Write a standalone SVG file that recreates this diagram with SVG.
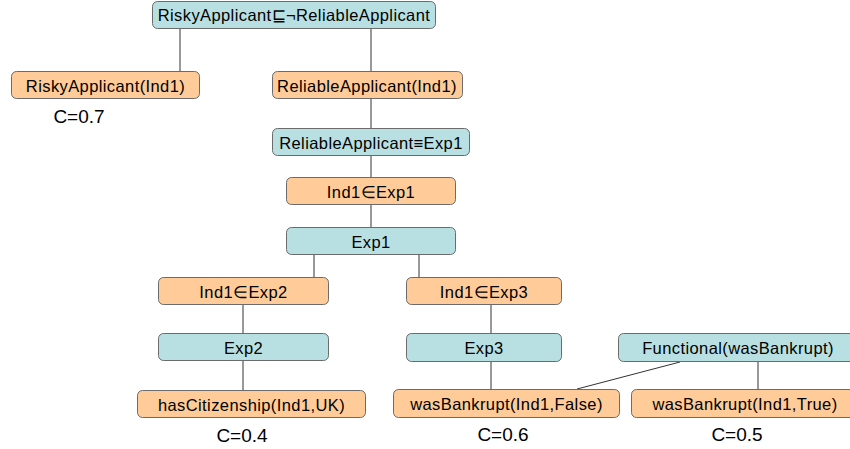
<svg xmlns="http://www.w3.org/2000/svg" width="850" height="449" viewBox="0 0 850 449">
<style>
.o{fill:#FFCC99;stroke:#6b6b6b;stroke-width:1}
.b{fill:#B8E0E3;stroke:#6b6b6b;stroke-width:1}
text{font-family:"Liberation Sans",Arial,sans-serif;font-size:16.5px;letter-spacing:0.4px;fill:#000;text-anchor:middle}
text.k{font-size:19px;letter-spacing:0}
.c line{stroke:#333;stroke-width:1}
</style>
<rect width="850" height="449" fill="#fff"/>
<g class="c" id="connectors">
<line x1="180" y1="28" x2="180" y2="72"/>
<line x1="371" y1="28" x2="371" y2="72"/>
<line x1="371" y1="99" x2="371" y2="128"/>
<line x1="371" y1="156" x2="371" y2="177"/>
<line x1="371" y1="205" x2="371" y2="227"/>
<line x1="314" y1="255" x2="314" y2="277"/>
<line x1="419" y1="255" x2="419" y2="277"/>
<line x1="243" y1="305" x2="243" y2="333"/>
<line x1="491" y1="305" x2="491" y2="333"/>
<line x1="243" y1="361" x2="243" y2="390"/>
<line x1="491" y1="362" x2="491" y2="389"/>
<line x1="680" y1="362" x2="577" y2="389"/>
<line x1="758" y1="362" x2="758" y2="389"/>
</g>
<g id="n1"><rect class="b" x="152.5" y="1.5" width="283" height="27" rx="5"/><text x="294" y="21">RiskyApplicant⊑¬ReliableApplicant</text></g>
<g id="n2"><rect class="o" x="11.5" y="71.5" width="188" height="27" rx="5"/><text x="105.5" y="91.5">RiskyApplicant(Ind1)</text><text class="k" x="79" y="123">C=0.7</text></g>
<g id="n3"><rect class="o" x="272.5" y="71.5" width="190" height="27" rx="5"/><text x="367" y="91.5">ReliableApplicant(Ind1)</text></g>
<g id="n4"><rect class="b" x="272.5" y="128.5" width="197" height="27" rx="5"/><text x="371" y="148.5">ReliableApplicant≡Exp1</text></g>
<g id="n5"><rect class="o" x="286.5" y="177.5" width="169" height="27" rx="5"/><text x="371" y="197.5">Ind1∈Exp1</text></g>
<g id="n6"><rect class="b" x="286.5" y="227.5" width="169" height="27" rx="5"/><text x="371" y="247.5">Exp1</text></g>
<g id="n7"><rect class="o" x="158.5" y="277.5" width="170" height="27" rx="5"/><text x="243.5" y="297.5">Ind1∈Exp2</text></g>
<g id="n8"><rect class="o" x="406.5" y="277.5" width="155" height="27" rx="5"/><text x="484" y="297.5">Ind1∈Exp3</text></g>
<g id="n9"><rect class="b" x="158.5" y="333.5" width="170" height="27" rx="5"/><text x="243.5" y="353.5">Exp2</text></g>
<g id="n10"><rect class="b" x="406.5" y="333.5" width="155" height="28" rx="5"/><text x="484" y="354">Exp3</text></g>
<g id="n11"><rect class="b" x="618.5" y="333.5" width="240" height="28" rx="5"/><text x="738" y="354">Functional(wasBankrupt)</text></g>
<g id="n12"><rect class="o" x="137.5" y="390.5" width="228" height="27" rx="5"/><text x="251.5" y="410.5">hasCitizenship(Ind1,UK)</text><text class="k" x="242" y="442">C=0.4</text></g>
<g id="n13"><rect class="o" x="393.5" y="389.5" width="226" height="28" rx="5"/><text x="506.5" y="410">wasBankrupt(Ind1,False)</text><text class="k" x="503" y="441">C=0.6</text></g>
<g id="n14"><rect class="o" x="631.5" y="389.5" width="230" height="28" rx="5"/><text x="745" y="410">wasBankrupt(Ind1,True)</text><text class="k" x="737" y="441">C=0.5</text></g>
</svg>
